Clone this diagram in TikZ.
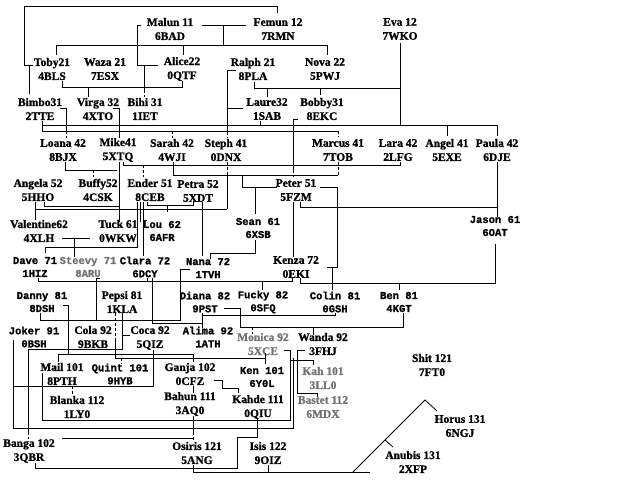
\documentclass[tikz,border=0pt]{standalone}
\usepackage{fontspec}
\setmainfont{Liberation Serif}[BoldFeatures={FakeBold=1.2}]
\setmonofont{Liberation Mono}[BoldFeatures={FakeBold=1.2}]
\usetikzlibrary{positioning}

\tikzset{
  person/.style={font=\fontsize{11.5}{14}\selectfont\bfseries, align=center, inner sep=0pt},
  monoperson/.style={font=\fontsize{10.5}{13}\selectfont\ttfamily\bfseries, align=center, inner sep=0pt},
  faded/.style={text=black!55},
  link/.style={line width=0.8pt},
  hint/.style={line width=0.8pt, densely dashed}
}

\begin{document}
\begin{tikzpicture}[x=1pt,y=-1pt]
        \useasboundingbox (0,0) rectangle (640,480);

        % --- GENERATION 1 ---
        \node[person] (Malun) at (170,29) {Malun 11\\6BAD};
        \node[person] (Femun) at (278,29) {Femun 12\\7RMN};
        \node[person] (Eva) at (400,29) {Eva 12\\7WKO};

        % --- GENERATION 2 ---
        \node[person] (Toby) at (52,69) {Toby21\\4BLS};
        \node[person] (Waza) at (105,69) {Waza 21\\7ESX};
        \node[person] (Alice) at (182,69) {Alice22\\0QTF};
        \node[person] (Ralph) at (253,69) {Ralph 21\\8PLA};
        \node[person] (Nova) at (325,69) {Nova 22\\5PWJ};

        % --- GENERATION 3 ---
        \node[person] (Bimbo) at (40,109) {Bimbo31\\2TTE};
        \node[person] (Virga) at (98,109) {Virga 32\\4XTO};
        \node[person] (Bihi) at (145,109) {Bihi 31\\1IET};
        \node[person] (Laure) at (267,109) {Laure32\\1SAB};
        \node[person] (Bobby) at (322,109) {Bobby31\\8EKC};

        % --- GENERATION 4 ---
        \node[person] (Loana) at (63,150) {Loana 42\\8BJX};
        \node[person] (Mike) at (118,150) {Mike41\\5XTQ};
        \node[person] (Sarah) at (172,150) {Sarah 42\\4WJI};
        \node[person] (Steph) at (226,150) {Steph 41\\0DNX};
        \node[person] (Marcus) at (338,150) {Marcus 41\\7TOB};
        \node[person] (Lara) at (398,150) {Lara 42\\2LFG};
        \node[person] (Angel) at (447,150) {Angel 41\\5EXE};
        \node[person] (Paula) at (497,150) {Paula 42\\6DJE};

        % --- GENERATION 5 ---
        \node[person] (Angela) at (38,190) {Angela 52\\5HHO};
        \node[person] (Buffy) at (98,190) {Buffy52\\4CSK};
        \node[person] (Ender) at (150,190) {Ender 51\\8CEB};
        \node[person] (Petra) at (198,191) {Petra 52\\5XDT};
        \node[person] (Peter) at (296,190) {Peter 51\\5FZM};

        % --- GENERATION 6 ---
        \node[person] (Valentine) at (39,231) {Valentine62\\4XLH};
        \node[person] (Tuck) at (118,231) {Tuck 61\\0WKW};
        \node[monoperson] (Lou) at (162,231) {Lou 62\\6AFR};
        \node[monoperson] (Sean) at (258,228) {Sean 61\\6XSB};
        \node[monoperson] (Jason) at (495,226) {Jason 61\\6OAT};

        % --- GENERATION 7 ---
        \node[monoperson] (Dave) at (35,267) {Dave 71\\1HIZ};
        \node[monoperson, faded] (Steevy) at (88,267) {Steevy 71\\8ARU};
        \node[monoperson] (Clara) at (145,267) {Clara 72\\6DCY};
        \node[monoperson] (Nana) at (208,268) {Nana 72\\1TVH};
        \node[person] (Kenza) at (296,267) {Kenza 72\\0EKI};

        % --- GENERATION 8 ---
        \node[monoperson] (Danny) at (42,302) {Danny 81\\8DSH};
        \node[person] (Pepsi) at (122,302) {Pepsi 81\\1KLA};
        \node[monoperson] (Diana) at (205,302) {Diana 82\\9PST};
        \node[monoperson] (Fucky) at (263,302) {Fucky 82\\0SFQ};
        \node[monoperson] (Colin) at (335,302) {Colin 81\\0GSH};
        \node[monoperson] (Ben) at (399,302) {Ben 81\\4KGT};

        % --- GENERATION 9 ---
        \node[monoperson] (Joker) at (34,337) {Joker 91\\0BSH};
        \node[person] (Cola) at (93,337) {Cola 92\\9BKB};
        \node[person] (Coca) at (150,338) {Coca 92\\5QIZ};
        \node[monoperson] (Alima) at (208,337) {Alima 92\\1ATH};
        \node[person, faded] (Monica) at (263,344) {Monica 92\\5XCE};
        \node[person] (Wanda) at (323,344) {Wanda 92\\3FHJ};

        % --- GENERATION 10 ---
        \node[person] (Mail) at (62,374) {Mail 101\\8PTH};
        \node[monoperson] (Quint) at (120,374) {Quint 101\\9HYB};
        \node[person] (Ganja) at (190,374) {Ganja 102\\0CFZ};
        \node[monoperson] (Ken) at (262,377) {Ken 101\\6Y0L};
        \node[person, faded] (Kah) at (323,378) {Kah 101\\3LL0};
        \node[person] (Shit) at (432,365) {Shit 121\\7FT0};

        % --- GENERATION 11 ---
        \node[person] (Blanka) at (77,407) {Blanka 112\\1LY0};
        \node[person] (Bahun) at (190,404) {Bahun 111\\3AQ0};
        \node[person] (Kahde) at (258,407) {Kahde 111\\0QIU};
        \node[person, faded] (Bastet) at (323,407) {Bastet 112\\6MDX};

        % --- GENERATION 12-13 ---
        \node[person] (Banga) at (29,451) {Banga 102\\3QBR};
        \node[person] (Osiris) at (197,453) {Osiris 121\\5ANG};
        \node[person] (Isis) at (268,453) {Isis 122\\9OIZ};
        \node[person] (Horus) at (460,426) {Horus 131\\6NGJ};
        \node[person] (Anubis) at (413,462) {Anubis 131\\2XFP};

        % --- LINKS: top ---
        \draw[link] (33,65) -- (24,65) -- (24,6) -- (277,6) -- (277,13);
        \draw[link] (29,65) -- (29,94);
        \draw[link] (202,25) -- (246,25);
        \draw[link] (141,25) -- (137,25) -- (137,65) -- (158,65);
        \draw[link] (144,65) -- (144,90);
        \draw[hint] (144,90) -- (144,97);
        \draw[link] (223,25) -- (223,45);
        \draw[link] (56,55) -- (56,45) -- (327,45) -- (327,55);
        \draw[link] (183,45) -- (183,55);
        \draw[link] (62,81) -- (62,87) -- (182,87) -- (182,81);
        \draw[link] (88,87) -- (88,97);
        \draw[link] (236,70) -- (227,70) -- (227,132);
        \draw[hint] (227,132) -- (227,138);
        \draw[link] (227,108) -- (243,108);
        \draw[link] (254,82) -- (254,88) -- (400,88);
        \draw[link] (267,88) -- (267,97);
        \draw[link] (320,88) -- (320,95);
        \draw[link] (400,43) -- (400,125);

        % --- LINKS: generations 3-5 ---
        \draw[link] (42,121) -- (42,131) -- (338,131);
        \draw[hint] (338,131) -- (338,137);
        \draw[link] (42,125) -- (497,125) -- (497,136);
        \draw[link] (260,121) -- (260,125);
        \draw[link] (447,125) -- (447,136);
        \draw[link] (298,119) -- (293,119) -- (293,170);
        \draw[hint] (293,170) -- (293,177);
        \draw[link] (60,108) -- (66,108) -- (66,131);
        \draw[hint] (66,131) -- (66,138);
        \draw[hint] (172,131) -- (172,138);
        \draw[link] (113,108) -- (119,108) -- (119,138);
        \draw[link] (119,162) -- (119,222);
        \draw[link] (65,162) -- (65,170) -- (117,170);
        \draw[hint] (93,170) -- (93,177);
        \draw[link] (123,162) -- (123,165) -- (400,165) -- (400,162);
        \draw[hint] (143,165) -- (143,177);
        \draw[link] (173,162) -- (173,175) -- (338,175);
        \draw[hint] (338,162) -- (338,175);
        \draw[hint] (227,162) -- (227,175);
        \draw[link] (227,175) -- (227,209);
        \draw[link] (242,175) -- (242,187) -- (277,187);
        \draw[link] (255,187) -- (255,214);
        \draw[link] (320,187) -- (337,187) -- (337,267) -- (327,267);
        \draw[link] (300,202) -- (300,207) -- (497,207);
        \draw[link] (497,162) -- (497,217);
        \draw[link] (293,202) -- (293,257);

        % --- LINKS: generations 5-7 ---
        \draw[link] (35,202) -- (35,220);
        \draw[link] (35,209) -- (227,209);
        \draw[link] (44,202) -- (44,206) -- (119,206);
        \draw[link] (147,202) -- (147,205) -- (193,205) -- (193,202);
        \draw[link] (167,205) -- (167,212);
        \draw[link] (137,202) -- (137,247) -- (45,247) -- (45,253);
        \draw[link] (140,202) -- (140,222);
        \draw[link] (143,202) -- (143,256);
        \draw[link] (143,220) -- (147,220);
        \draw[link] (202,202) -- (202,256);
        \draw[link] (62,238) -- (90,238);
        \draw[link] (74,238) -- (74,257);
        \draw[link] (255,240) -- (255,253) -- (210,253) -- (210,259);
        \draw[link] (495,244) -- (495,283) -- (300,283) -- (300,278);
        \draw[link] (332,267) -- (332,290);
        \draw[link] (399,283) -- (399,290);

        % --- LINKS: generations 7-9 ---
        \draw[link] (38,278) -- (38,281) -- (292,281) -- (292,278);
        \draw[link] (262,281) -- (262,290);
        \draw[link] (147,278) -- (147,281);
        \draw[link] (152,278) -- (152,323) -- (202,323);
        \draw[link] (100,278) -- (96,278) -- (96,320) -- (180,320) -- (180,269) -- (190,269);
        \draw[link] (40,313) -- (40,320) -- (96,320);
        \draw[link] (202,313) -- (202,328);
        \draw[link] (203,315) -- (335,315) -- (335,313);
        \draw[link] (224,308) -- (240,308) -- (240,327) -- (403,327) -- (403,313);
        \draw[hint] (252,327) -- (252,334);
        \draw[link] (313,327) -- (313,335);
        \draw[link] (63,305) -- (68,305) -- (68,354);
        \draw[link] (58,362) -- (58,354) -- (193,354) -- (193,362);
        \draw[hint] (115,313) -- (115,340);
        \draw[link] (115,340) -- (115,358) -- (265,358) -- (265,353);
        \draw[link] (265,358) -- (265,364);
        \draw[link] (122,313) -- (122,349) -- (28,349) -- (28,432);
        \draw[hint] (28,432) -- (28,439);
        \draw[link] (122,335) -- (130,335);
        \draw[hint] (121,358) -- (121,364);

        % --- LINKS: generations 9-11 ---
        \draw[link] (13,340) -- (13,428) -- (293,428) -- (293,358);
        \draw[link] (42,373) -- (42,420) -- (290,420) -- (290,350) -- (284,350);
        \draw[link] (290,360) -- (313,360) -- (313,365);
        \draw[link] (305,350) -- (297,350) -- (297,393) -- (317,393) -- (317,397);
        \draw[link] (153,350) -- (153,386) -- (13,386);
        \draw[hint] (72,386) -- (72,396);
        \draw[link] (193,386) -- (193,393);
        \draw[link] (214,380) -- (222,380) -- (222,388) -- (238,388) -- (238,393);

        % --- LINKS: generations 11-13 ---
        \draw[link] (62,438) -- (193,438);
        \draw[link] (193,416) -- (193,432);
        \draw[hint] (193,432) -- (193,441);
        \draw[link] (35,463) -- (35,468) -- (237,468) -- (237,437) -- (257,437) -- (257,419);
        \draw[link] (193,465) -- (193,472) -- (370,472);
        \draw[link] (268,465) -- (268,472);
        \draw[link] (353,472) -- (425,400) -- (437,411);
        \draw[link] (385,440) -- (393,447);

    \end{tikzpicture}
\end{document}
